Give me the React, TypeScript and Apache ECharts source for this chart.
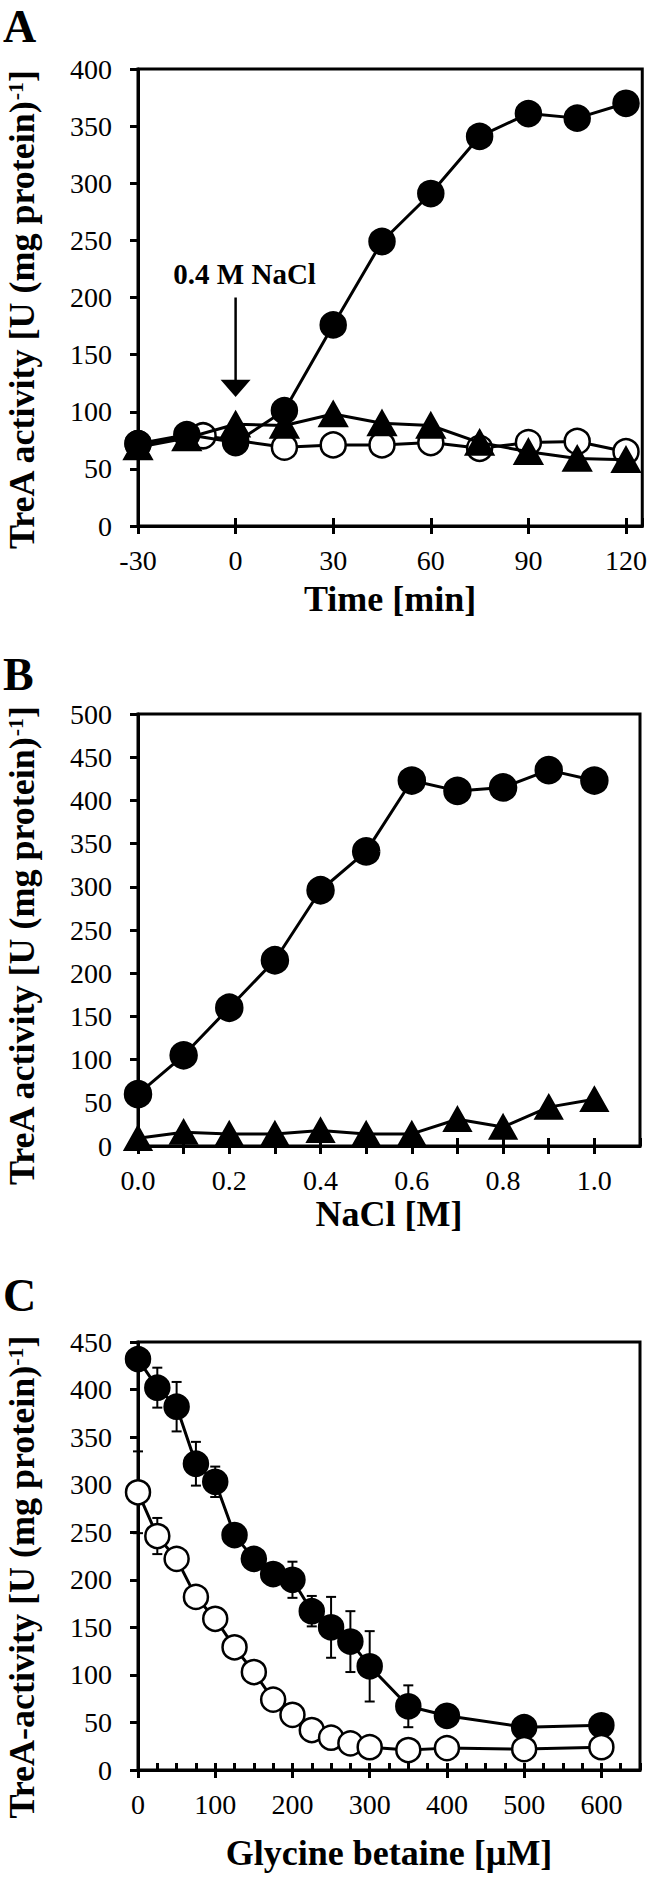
import React, { useEffect, useRef } from "react";
import * as echarts from "echarts";

const FONT = '"Liberation Serif", "Times New Roman", Times, serif';

// Panel A: time course
const timeA = [-30, -15, 0, 15, 30, 45, 60, 75, 90, 105, 120];
const aFilled = [72, 80, 73, 101, 176, 249, 291, 341, 361, 357, 370];
const timeOpenA = [-30, -10, 0, 15, 30, 45, 60, 75, 90, 105, 120];
const aOpen = [72, 79, 75, 69, 71, 71, 73, 68, 73, 74, 65];
const aTri = [69, 77, 89, 88, 98, 90, 88, 73, 65, 59, 58];

// Panel B: NaCl concentration
const naclB = [0, 0.1, 0.2, 0.3, 0.4, 0.5, 0.6, 0.7, 0.8, 0.9, 1.0];
const bFilled = [60, 105, 160, 215, 296, 341, 423, 411, 415, 435, 423];
const bTri = [9, 16, 14, 14, 18, 14, 14, 31, 22, 45, 54];

// Panel C: glycine betaine
const gbC = [0, 25, 50, 75, 100, 125, 150, 175, 200, 225, 250, 275, 300, 350, 400, 500, 600];
const cFilled = [432, 402, 382, 322, 303, 247, 222, 206, 200, 167, 150, 135, 109, 67, 57, 45, 47];
const cFilledErr = [0, 21, 26, 23, 16, 0, 0, 0, 19, 16, 32, 32, 37, 22, 0, 0, 0];
const cOpen = [292, 246, 222, 182, 159, 129, 103, 74, 58, 42, 34, 28, 24, 21, 23, 22, 24];
const cOpenErr = [43, 19, 0, 0, 0, 0, 0, 0, 0, 0, 0, 0, 0, 0, 0, 0, 0];

const yTitleA = "{b|TreA activity [U (mg protein)}{s|-1}{b|]}";
const yTitleC = "{b|TreA-activity [U (mg protein)}{s|-1}{b|]}";

const pairs = (xs: number[], ys: number[]) => xs.map((x, i) => [x, ys[i]]);
const errData = (xs: number[], ys: number[], es: number[]) =>
  xs.map((x, i) => [x, ys[i] - es[i], ys[i] + es[i]]).filter((_, i) => es[i] > 0);

const BLACK = "#000";

function mainX(gridIndex: number, min: number, max: number, interval: number, name: string, nameGap: number, fmt?: (v: number) => string) {
  return {
    type: "value",
    gridIndex,
    min,
    max,
    interval,
    name,
    nameLocation: "middle",
    nameGap,
    nameTextStyle: { fontFamily: FONT, fontWeight: "bold", fontSize: 36, color: BLACK },
    axisLine: { show: true, onZero: false, lineStyle: { color: BLACK, width: 3 } },
    axisTick: { show: true, inside: false, length: 8, lineStyle: { color: BLACK, width: 3 } },
    axisLabel: {
      show: true,
      margin: 20,
      fontFamily: FONT,
      fontSize: 28,
      color: BLACK,
      showMaxLabel: false,
      formatter: fmt,
    },
    splitLine: { show: false },
  };
}

function innerX(gridIndex: number, min: number, max: number, interval: number, len: number) {
  return {
    type: "value",
    gridIndex,
    min,
    max,
    interval,
    position: "bottom",
    axisLine: { show: false },
    axisTick: { show: true, inside: true, length: len, lineStyle: { color: BLACK, width: 3 } },
    axisLabel: { show: false },
    splitLine: { show: false },
  };
}

function mainY(gridIndex: number, max: number) {
  return {
    type: "value",
    gridIndex,
    min: 0,
    max,
    interval: 50,
    axisLine: { show: true, onZero: false, lineStyle: { color: BLACK, width: 3 } },
    axisTick: { show: true, inside: false, length: 8, lineStyle: { color: BLACK, width: 3 } },
    axisLabel: { margin: 26, fontFamily: FONT, fontSize: 28, color: BLACK },
    splitLine: { show: false },
  };
}

function lineSeries(xi: number, yi: number, data: number[][], symbol: string, size: number | number[], fill: string, z: number) {
  return {
    type: "line",
    xAxisIndex: xi,
    yAxisIndex: yi,
    data,
    symbol,
    symbolSize: size,
    showAllSymbol: true,
    z,
    lineStyle: { color: BLACK, width: 3 },
    itemStyle: { color: fill, borderColor: BLACK, borderWidth: 2.5, opacity: 1 },
    emphasis: { disabled: true },
  };
}

function errSeries(xi: number, yi: number, data: number[][]) {
  return {
    type: "custom",
    xAxisIndex: xi,
    yAxisIndex: yi,
    data,
    z: 1,
    encode: { x: 0, y: [1, 2] },
    renderItem: (params: any, api: any) => {
      const x = api.value(0);
      const lo = api.coord([x, api.value(1)]);
      const hi = api.coord([x, api.value(2)]);
      const w = 5;
      const st = { stroke: BLACK, lineWidth: 2 };
      return {
        type: "group",
        children: [
          { type: "line", shape: { x1: lo[0], y1: lo[1], x2: hi[0], y2: hi[1] }, style: st },
          { type: "line", shape: { x1: hi[0] - w, y1: hi[1], x2: hi[0] + w, y2: hi[1] }, style: st },
          { type: "line", shape: { x1: lo[0] - w, y1: lo[1], x2: lo[0] + w, y2: lo[1] }, style: st },
        ],
      };
    },
  };
}

const gridBase = { show: true, borderColor: BLACK, borderWidth: 3, backgroundColor: "transparent" };

export default function App() {
  const ref = useRef<HTMLDivElement>(null);
  useEffect(() => {
    document.body.style.margin = "0";
    const chart = echarts.init(ref.current!, null, { renderer: "svg" });
    const letter = (t: string, y: number) => ({
      type: "text",
      x: 3,
      y,
      style: {
        text: t,
        font: `bold 46px ${FONT}`,
        fill: BLACK,
        textAlign: "left",
        textVerticalAlign: "middle",
      },
    });
    const yTitle = (t: string, cy: number) => ({
      type: "text",
      x: 22,
      y: cy,
      rotation: Math.PI / 2,
      style: {
        text: t,
        fill: BLACK,
        textAlign: "center",
        textVerticalAlign: "middle",
        rich: {
          b: { fontFamily: FONT, fontWeight: "bold", fontSize: 36, fill: BLACK, color: BLACK },
          s: { fontFamily: FONT, fontWeight: "bold", fontSize: 22, fill: BLACK, color: BLACK, verticalAlign: "top" },
        },
      },
    });
    const baseGraphics = [
      letter("A", 26),
      letter("B", 674),
      letter("C", 1295),
      yTitle(yTitleA, 310),
      yTitle(yTitleA, 946),
      yTitle(yTitleC, 1577),
    ];
    const option: any = {
      animation: false,
      backgroundColor: "#fff",
      grid: [
        { ...gridBase, left: 138, top: 69, width: 506, height: 457 },
        { ...gridBase, left: 138, top: 714, width: 502, height: 432 },
        { ...gridBase, left: 138, top: 1342, width: 502, height: 428 },
      ],
      xAxis: [
        mainX(0, -30, 125, 30, "Time [min]", 55),
        innerX(0, -30, 125, 30, 8),
        mainX(1, 0, 1.1, 0.1, "NaCl [M]", 50, (v: number) => (Math.round(v * 10) % 2 === 0 ? v.toFixed(1) : "")),
        innerX(1, 0, 1.1, 0.1, 8),
        mainX(2, 0, 650, 100, "Glycine betaine [µM]", 65),
        innerX(2, 0, 650, 25, 7),
      ],
      yAxis: [mainY(0, 400), mainY(1, 500), mainY(2, 450)],
      series: [
        lineSeries(0, 0, pairs(timeOpenA, aOpen), "circle", 25, "#fff", 2),
        lineSeries(0, 0, pairs(timeA, aFilled), "circle", 25, BLACK, 3),
        lineSeries(0, 0, pairs(timeA, aTri), "triangle", [27, 24], BLACK, 4),
        lineSeries(2, 1, pairs(naclB, bFilled), "circle", 26, BLACK, 2),
        lineSeries(2, 1, pairs(naclB, bTri), "triangle", [26, 23], BLACK, 3),
        errSeries(4, 2, errData(gbC, cFilled, cFilledErr)),
        errSeries(4, 2, errData(gbC, cOpen, cOpenErr)),
        lineSeries(4, 2, pairs(gbC, cFilled), "circle", 24, BLACK, 2),
        lineSeries(4, 2, pairs(gbC, cOpen), "circle", 24, "#fff", 3),
      ],
      graphic: baseGraphics,
    };
    chart.setOption(option);

    const start = chart.convertToPixel({ gridIndex: 0 }, [0, 200]) as number[];
    const headTop = chart.convertToPixel({ gridIndex: 0 }, [0, 128]) as number[];
    const tip = chart.convertToPixel({ gridIndex: 0 }, [0, 113]) as number[];
    chart.setOption({
      graphic: [
        ...baseGraphics,
        {
          type: "line",
          shape: { x1: start[0], y1: start[1], x2: start[0], y2: headTop[1] + 2 },
          style: { stroke: BLACK, lineWidth: 2.5 },
        },
        {
          type: "polygon",
          shape: { points: [[tip[0] - 15, headTop[1]], [tip[0] + 15, headTop[1]], [tip[0], tip[1]]] },
          style: { fill: BLACK },
        },
        {
          type: "text",
          x: start[0] + 9,
          y: start[1] - 24,
          style: { text: "0.4 M NaCl", font: `bold 29px ${FONT}`, fill: BLACK, textAlign: "center", textVerticalAlign: "middle" },
        },
      ],
    });
    return () => chart.dispose();
  }, []);
  return <div ref={ref} style={{ width: 650, height: 1877 }} />;
}
